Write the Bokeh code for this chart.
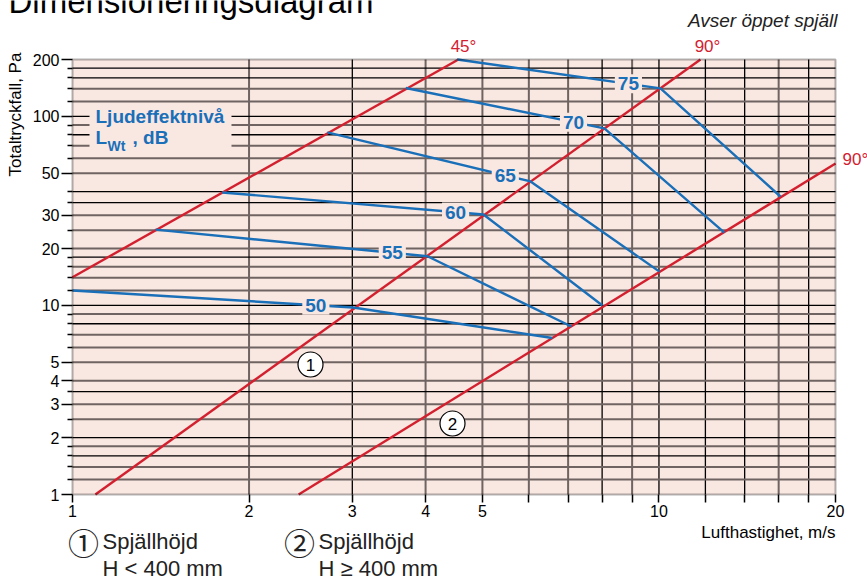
import numpy as np
from bokeh.plotting import figure
from bokeh.models import FixedTicker, Label, BoxAnnotation, BasicTickFormatter, Range1d
from bokeh.embed import file_html
from bokeh.resources import INLINE
from bokeh.core.properties import value

# ---------------- data ----------------
x_ticks = [1, 2, 3, 4, 5, 10, 20]
x_minor = [6, 7, 8, 9, 12, 14, 16, 18]
y_ticks = [1, 2, 3, 4, 5, 10, 20, 30, 50, 100, 200]
y_minor = [1.2, 1.4, 1.6, 1.8, 2.5, 3.5, 6, 7, 8, 9, 12, 14, 16, 18, 25, 35, 40,
           60, 70, 80, 90, 120, 140, 160, 180]

x_grid_black = [3, 8, 10, 12, 14, 18]
x_grid_gray = [2, 4, 5, 6, 7, 9, 16]
y_grid_black = [1.6, 2, 3.5, 8, 10, 18, 35, 40, 80, 100, 160, 180]
y_grid_gray = [1.2, 1.4, 1.8, 2.5, 3, 4, 5, 6, 7, 9, 12, 14, 16, 20, 25, 30,
               50, 60, 70, 90, 120, 140]

# damper position lines
line45_x = [1.0, 4.55]
line45_y = [14.1, 200]
line90_1_x = [1.094, 11.77]
line90_1_y = [1, 200]
line90_2_x = [2.43, 20]
line90_2_y = [1, 56.4]

# sound power level curves L_Wt (dB)
levels = [50, 55, 60, 65, 70, 75]
curve_x = [[1.0, 3.01, 6.58],
           [1.385, 4.03, 7.09],
           [1.80, 5.02, 8.01],
           [2.72, 6.04, 10.02],
           [3.70, 8.07, 12.93],
           [4.53, 10.06, 16.11]]
curve_y = [[12.0, 9.76, 6.73],
           [25.2, 18.2, 7.74],
           [39.6, 30.3, 10.0],
           [82.3, 45.3, 15.1],
           [141.3, 86.4, 24.3],
           [200, 140.6, 37.7]]
label_x = [2.60, 3.51, 4.50, 5.47, 7.15, 8.87]

# ---------------- style ----------------
PINK = "#f9e7e1"
RED = "#d3202f"
BLUE = "#1a6fb9"
GRAY = "#6f6462"
FONT = "Liberation Sans"

W, H = 867, 581
FL, FR, FT, FB = 72, 835, 59, 494  # plot-area edges in canvas pixels
XMIN, XMAX = x_ticks[0], x_ticks[-1]
YMIN, YMAX = y_ticks[0], y_ticks[-1]
KX = np.log10(XMAX / XMIN) / (FR - FL)
KY = np.log10(YMAX / YMIN) / (FB - FT)


def dx(xp):
    return XMIN * 10 ** ((xp - FL) * KX)


def dy(yp):
    return YMIN * 10 ** ((FB - yp) * KY)


p = figure(width=W, height=H, x_axis_type="log", y_axis_type="log",
           x_range=Range1d(dx(0), dx(W)), y_range=Range1d(dy(H), dy(0)),
           output_backend="svg", toolbar_location=None,
           min_border=0, min_border_left=0, min_border_right=0,
           min_border_top=0, min_border_bottom=0,
           background_fill_color="white", border_fill_color="white",
           outline_line_color=None)
p.xgrid.visible = False
p.ygrid.visible = False

# plot area background
p.add_layout(BoxAnnotation(left=XMIN, right=XMAX, bottom=YMIN, top=YMAX,
                           fill_color=PINK, fill_alpha=1, line_color=None,
                           level="underlay"))

# grid lines
for xs, col, wd in [(x_grid_gray, GRAY, 2.0), (x_grid_black, "black", 1.3)]:
    p.segment(x0=xs, y0=[YMIN] * len(xs), x1=xs, y1=[YMAX] * len(xs),
              line_color=col, line_width=wd)
for ys, col, wd in [(y_grid_gray, GRAY, 2.0), (y_grid_black, "black", 1.3)]:
    p.segment(x0=[XMIN] * len(ys), y0=ys, x1=[XMAX] * len(ys), y1=ys,
              line_color=col, line_width=wd)

# axes, fixed on the plot-area edges
xa = p.xaxis[0]
xa.fixed_location = YMIN
xa.ticker = FixedTicker(ticks=x_ticks, minor_ticks=x_minor)
xa.formatter = BasicTickFormatter()
xa.axis_line_color = None
xa.major_tick_in = 0
xa.minor_tick_in = 0
xa.major_tick_out = 8
xa.minor_tick_out = 8
xa.major_tick_line_width = 1.5
xa.minor_tick_line_width = 1.5
xa.major_tick_line_color = "black"
xa.minor_tick_line_color = "black"
xa.major_label_text_font = FONT
xa.major_label_text_font_size = "16px"
xa.major_label_text_color = "black"
xa.major_label_standoff = 2

ya = p.yaxis[0]
ya.fixed_location = XMIN
ya.ticker = FixedTicker(ticks=y_ticks, minor_ticks=y_minor)
ya.formatter = BasicTickFormatter()
ya.axis_line_color = None
ya.major_tick_in = 0
ya.minor_tick_in = 0
ya.major_tick_out = 11
ya.minor_tick_out = 5
ya.major_tick_line_width = 1.5
ya.minor_tick_line_width = 1.5
ya.major_tick_line_color = "black"
ya.minor_tick_line_color = "black"
ya.major_label_text_font = FONT
ya.major_label_text_font_size = "16px"
ya.major_label_text_color = "black"
ya.major_label_standoff = 2

# red damper lines
for xs, ys in [(line45_x, line45_y), (line90_1_x, line90_1_y), (line90_2_x, line90_2_y)]:
    p.line(xs, ys, line_color=RED, line_width=2.4)

# blue level curves
for xs, ys in zip(curve_x, curve_y):
    p.line(xs, ys, line_color=BLUE, line_width=2.4)

# circled markers inside plot
mk_x = [dx(310), dx(452)]
mk_y = [dy(364), dy(423)]
p.scatter(mk_x, mk_y, size=25, fill_color="white", line_color="black", line_width=1.2)
p.text(mk_x, mk_y, text=["1", "2"], text_align="center", text_baseline="middle",
       text_font=value(FONT), text_font_size="17px", text_color="black")

# level labels on the curves
for lvl, lx, xs, ys in zip(levels, label_x, curve_x, curve_y):
    t = (np.log10(lx) - np.log10(xs[0])) / (np.log10(xs[1]) - np.log10(xs[0]))
    ly = 10 ** (np.log10(ys[0]) + t * (np.log10(ys[1]) - np.log10(ys[0])))
    p.add_layout(Label(x=lx, y=ly, text=str(lvl), text_align="center",
                       text_baseline="middle", text_font=FONT,
                       text_font_size="19px", text_font_style="bold",
                       text_color=BLUE, background_fill_color=PINK, padding=3))

# legend box
p.add_layout(BoxAnnotation(left=dx(89), right=dx(231), top=dy(104), bottom=dy(150),
                           fill_color=PINK, fill_alpha=1, line_color=None))

# plot-area border on top
p.add_layout(BoxAnnotation(left=XMIN, right=XMAX, bottom=YMIN, top=YMAX,
                           fill_color=None, fill_alpha=0, line_color="black",
                           line_width=2, level="overlay"))


def lab(xp, yp, text, size, color="black", align="left",
        style="normal", angle=0, font=FONT):
    p.add_layout(Label(x=dx(xp), y=dy(yp), text=text, text_align=align,
                       text_baseline="middle", text_font=font, text_font_size=size,
                       text_font_style=style, text_color=color, angle=angle,
                       angle_units="deg"))


lab(95, 115.5, "Ljudeffektnivå", "19px", BLUE, style="bold")
lab(95, 136.5, "L", "19px", BLUE, style="bold")
lab(107, 145, "Wt", "14px", BLUE, style="bold")
lab(132, 136.5, ", dB", "19px", BLUE, style="bold")

# angle labels
lab(463, 46, "45°", "17px", RED, align="center")
lab(707, 46, "90°", "17px", RED, align="center")
lab(842, 158.5, "90°", "17px", RED)

# titles
lab(8, 0.5, "Dimensioneringsdiagram", "33px", "black")
lab(837, 19.5, "Avser öppet spjäll", "19px", "#222222", align="right", style="italic")
lab(835, 532, "Lufthastighet, m/s", "17px", "black", align="right")
lab(15, 114, "Totaltryckfall, Pa", "17px", "black", align="center", angle=90)

# bottom legend
lab(83, 541, "①", "31px", "#222222", align="center", font="Noto Sans CJK JP")
lab(102, 540.5, "Spjällhöjd", "22px", "#222222")
lab(102, 568, "H < 400 mm", "22px", "#222222")
lab(299, 541, "②", "31px", "#222222", align="center", font="Noto Sans CJK JP")
lab(318, 540.5, "Spjällhöjd", "22px", "#222222")
lab(318, 568, "H ≥ 400 mm", "22px", "#222222")

open("out.html", "w").write(file_html(p, INLINE))
